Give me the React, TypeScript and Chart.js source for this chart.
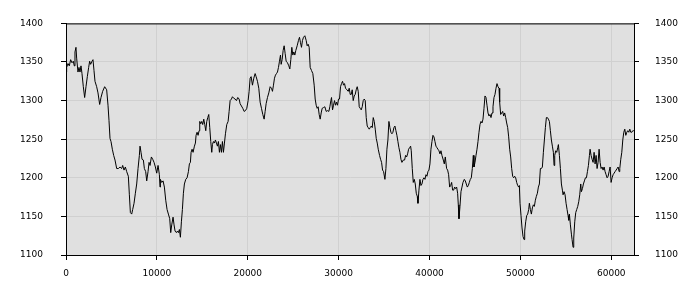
import React, { useEffect, useRef } from "react";
import { Chart, registerables } from "chart.js";

Chart.register(...registerables);

const seg1: [number, number][] = [[0,1337],[70,1343],[217,1348],[364,1345],[511,1353],[657,1349],[804,1351],[914,1345],[988,1363],[1098,1369],[1171,1355],[1318,1337],[1428,1343],[1539,1337],[1649,1345],[1759,1335],[1906,1318],[2052,1304],[2199,1318],[2346,1331],[2493,1343],[2603,1351],[2713,1347],[2860,1351],[2970,1353],[3080,1339],[3190,1325],[3374,1318],[3521,1310],[3704,1295],[3851,1304],[4035,1312],[4255,1318],[4475,1314],[4622,1294],[4732,1274],[4842,1251],[4953,1247],[5099,1237],[5246,1229],[5393,1223],[5577,1212],[5760,1212],[5944,1214],[6127,1212],[6237,1216],[6384,1210],[6531,1214],[6678,1208],[6861,1202],[6972,1178],[7082,1155],[7229,1153],[7339,1159],[7486,1167],[7632,1180],[7779,1192],[7926,1212],[8073,1229],[8146,1241],[8256,1233],[8367,1224],[8513,1223],[8624,1212],[8770,1208],[8881,1196],[9027,1208],[9137,1220],[9248,1216],[9394,1227],[9541,1224],[9688,1220],[9835,1214],[9982,1206],[10129,1216],[10275,1204],[10349,1188]];

const seg2: [number, number][] = [[10385,1198],[10532,1194],[10679,1196],[10826,1188],[10973,1171],[11119,1159],[11266,1153],[11413,1147],[11523,1129],[11633,1139],[11780,1149],[11890,1139],[12001,1131],[12147,1129],[12257,1131],[12368,1129],[12478,1133],[12588,1123],[12698,1143],[12808,1159],[12918,1180],[13028,1192],[13175,1198],[13322,1200],[13469,1208],[13579,1218],[13689,1220],[13763,1233],[13873,1237],[13983,1233],[14130,1241],[14240,1245],[14313,1255],[14423,1259],[14533,1255],[14644,1261],[14717,1273],[14827,1270],[14937,1273],[15047,1269],[15158,1276],[15268,1269],[15378,1261],[15488,1273],[15598,1278],[15708,1282],[15818,1265],[15928,1247],[16039,1233],[16112,1243],[16222,1247],[16332,1245],[16442,1249],[16553,1245],[16663,1241],[16773,1247],[16883,1233],[16993,1243],[17103,1233],[17213,1247],[17323,1233],[17434,1245],[17544,1257],[17691,1269],[17837,1273],[17948,1286],[18058,1300],[18204,1302],[18315,1305],[18461,1303],[18608,1302],[18755,1300],[18902,1304],[19049,1302],[19159,1296],[19306,1293],[19453,1290],[19599,1286],[19746,1287],[19893,1290],[20040,1300],[20150,1312],[20260,1329],[20370,1331],[20517,1320],[20664,1329],[20811,1335]];

const seg3: [number, number][] = [[20921,1331],[21068,1325],[21214,1316],[21361,1298],[21508,1290],[21655,1282],[21802,1276],[21912,1286],[22022,1296],[22169,1304],[22316,1310],[22463,1318],[22609,1316],[22719,1312],[22830,1320],[22940,1329],[23050,1333],[23160,1335],[23270,1337],[23380,1343],[23490,1351],[23601,1359],[23674,1347],[23784,1353],[23894,1365],[24004,1371],[24114,1361],[24225,1351],[24371,1349],[24518,1345],[24628,1341],[24739,1353],[24849,1369],[24959,1359],[25069,1363],[25179,1359],[25289,1365],[25436,1371],[25583,1378],[25693,1382],[25803,1375],[25913,1369],[26023,1378],[26134,1382],[26280,1384],[26427,1378],[26537,1371],[26647,1373],[26758,1369],[26868,1343],[27015,1339],[27161,1335],[27308,1320],[27418,1302],[27528,1294],[27639,1290],[27749,1292],[27859,1282],[27969,1276],[28079,1284],[28189,1290],[28336,1291],[28483,1292],[28630,1286],[28777,1287],[28923,1286],[29033,1292],[29144,1300],[29217,1304],[29327,1288],[29437,1294],[29547,1300],[29658,1294],[29768,1298],[29878,1294],[29988,1302],[30098,1302],[30208,1318],[30318,1322],[30429,1325],[30539,1320],[30649,1322],[30759,1316],[30906,1314],[31053,1312],[31163,1316],[31273,1308]];

const seg4: [number, number][] = [[31384,1308],[31494,1314],[31604,1300],[31714,1306],[31824,1308],[31934,1314],[32044,1318],[32155,1312],[32265,1292],[32375,1290],[32485,1288],[32595,1292],[32705,1300],[32815,1302],[32926,1300],[33036,1278],[33146,1267],[33256,1265],[33366,1263],[33476,1265],[33586,1267],[33696,1265],[33807,1278],[33917,1273],[34027,1263],[34137,1251],[34247,1245],[34357,1237],[34504,1229],[34614,1224],[34724,1220],[34834,1210],[34945,1208],[35091,1198],[35202,1212],[35312,1237],[35422,1249],[35532,1273],[35642,1265],[35752,1259],[35862,1257],[35972,1259],[36083,1265],[36193,1267],[36303,1261],[36413,1255],[36523,1247],[36633,1239],[36743,1233],[36854,1224],[36964,1220],[37110,1223],[37257,1223],[37367,1229],[37478,1227],[37588,1231],[37698,1237],[37808,1239],[37918,1241],[37991,1235],[38102,1212],[38212,1194],[38322,1198],[38432,1192],[38542,1180],[38652,1176],[38726,1167],[38836,1184],[38946,1198],[39056,1190],[39166,1192],[39276,1198],[39386,1200],[39497,1198],[39607,1204],[39717,1202],[39827,1208],[39937,1210],[40047,1218],[40157,1237],[40268,1247],[40378,1255],[40488,1253],[40598,1247],[40708,1241],[40818,1239],[40928,1237],[41038,1235],[41149,1231],[41259,1235],[41369,1229],[41516,1223],[41626,1218],[41736,1227]];

const seg5: [number, number][] = [[41882,1212],[41993,1210],[42103,1204],[42213,1188],[42323,1190],[42433,1194],[42543,1184],[42653,1184],[42763,1188],[42874,1186],[42984,1188],[43094,1180],[43167,1165],[43241,1147],[43351,1163],[43461,1182],[43571,1188],[43681,1194],[43828,1198],[43938,1196],[44048,1192],[44158,1188],[44269,1190],[44379,1194],[44489,1198],[44599,1200],[44709,1212],[44819,1229],[44893,1214],[45003,1220],[45113,1229],[45223,1237],[45333,1247],[45443,1259],[45553,1269],[45664,1273],[45774,1271],[45884,1276],[45994,1290],[46104,1306],[46214,1304],[46324,1294],[46434,1284],[46545,1280],[46655,1282],[46765,1278],[46875,1284],[46985,1292],[47095,1304],[47205,1308],[47315,1316],[47426,1322],[47536,1318],[47646,1316],[47719,1298],[47829,1282],[47940,1284],[48050,1286],[48160,1280],[48270,1284],[48380,1278],[48490,1271],[48600,1265],[48710,1253],[48821,1237],[48931,1227],[49041,1212],[49151,1202],[49261,1200],[49371,1202],[49481,1200],[49591,1194],[49702,1190],[49812,1188],[49885,1190],[49959,1167],[50069,1151],[50179,1135],[50289,1124],[50399,1120],[50473,1131],[50583,1143],[50693,1151],[50803,1153],[50913,1159],[50986,1167],[51097,1159],[51207,1153],[51317,1161],[51427,1165],[51537,1163],[51647,1171],[51757,1176],[51868,1180],[51978,1188],[52088,1192],[52198,1212]];

const seg6: [number, number][] = [[52309,1212],[52419,1214],[52529,1233],[52639,1249],[52749,1265],[52859,1278],[52970,1278],[53080,1276],[53190,1273],[53300,1261],[53410,1249],[53520,1241],[53630,1233],[53704,1216],[53777,1229],[53887,1235],[53997,1233],[54107,1239],[54181,1243],[54291,1229],[54401,1212],[54511,1192],[54621,1184],[54695,1178],[54805,1182],[54915,1178],[55025,1167],[55135,1159],[55245,1151],[55319,1145],[55392,1153],[55502,1139],[55613,1127],[55686,1120],[55796,1110],[55870,1122],[55980,1143],[56090,1155],[56200,1159],[56310,1163],[56420,1169],[56530,1178],[56640,1192],[56714,1182],[56824,1186],[56934,1192],[57044,1196],[57154,1200],[57265,1200],[57375,1208],[57485,1216],[57595,1229],[57668,1237],[57778,1229],[57889,1224],[57999,1220],[58109,1233],[58219,1218],[58329,1229],[58439,1212],[58549,1220],[58660,1237],[58770,1220],[58880,1212],[58990,1214],[59100,1210],[59210,1214],[59320,1208],[59430,1204],[59541,1200],[59651,1202],[59761,1208],[59871,1214],[59981,1194],[60091,1200],[60201,1204],[60311,1206],[60421,1208],[60532,1210],[60642,1212],[60752,1214],[60862,1208],[60935,1212],[61045,1224],[61156,1233],[61266,1249],[61376,1259],[61486,1263],[61596,1255],[61706,1259],[61816,1261],[61927,1259],[62037,1263],[62147,1259],[62257,1259],[62367,1261],[62477,1261]];

const xMin = 0;
const xMax = 62500;
const xTicks = [0, 10000, 20000, 30000, 40000, 50000, 60000];
const yMin = 1100;
const yMax = 1400;
const yTicks = [1100, 1150, 1200, 1250, 1300, 1350, 1400];

const FONT = { family: "'DejaVu Sans', Verdana, sans-serif", size: 9 };

export default function App() {
  const ref = useRef<HTMLCanvasElement | null>(null);
  useEffect(() => {
    document.body.style.margin = "0";
    const canvas = ref.current;
    if (!canvas) return;
    const points = [...seg1, ...seg2, ...seg3, ...seg4, ...seg5, ...seg6].map(([x, y]) => ({ x, y }));
    const framePlugin = {
      id: "frame",
      beforeDraw(chart: any) {
        const { ctx, chartArea: a } = chart;
        ctx.save();
        ctx.fillStyle = "#e0e0e0";
        ctx.fillRect(a.left, a.top, a.right - a.left, a.bottom - a.top);
        ctx.restore();
      },
      afterDraw(chart: any) {
        const { ctx, chartArea: a } = chart;
        ctx.save();
        ctx.strokeStyle = "#000";
        ctx.lineWidth = 1;
        ctx.strokeRect(a.left + 0.5, a.top + 0.5, a.right - a.left, a.bottom - a.top);
        ctx.restore();
      },
    };
    const setTicks = (list: number[]) => (s: any) => {
      s.ticks = list.map((value) => ({ value }));
    };
    const fmt = (v: any) => String(v);
    const chart = new Chart(canvas, {
      type: "line",
      data: {
        datasets: [
          {
            data: points,
            borderColor: "#000",
            borderWidth: 1,
            pointRadius: 0,
            tension: 0,
            fill: false,
          },
        ],
      },
      options: {
        animation: false,
        responsive: false,
        layout: { padding: { top: 10, left: 0, right: 0, bottom: 0 } },
        plugins: { legend: { display: false }, tooltip: { enabled: false } },
        scales: {
          x: {
            type: "linear",
            position: "bottom",
            min: xMin,
            max: xMax,
            afterFit: (s: any) => { s.height = 45; },
            afterBuildTicks: setTicks(xTicks),
            ticks: { color: "#000", font: FONT, padding: 8, maxRotation: 0, autoSkip: false, callback: fmt },
            grid: { color: "#d0d0d0", tickColor: "#000", tickLength: 5, lineWidth: 1 },
            border: { display: true, color: "#000" },
          },
          y: {
            type: "linear",
            position: "left",
            min: yMin,
            max: yMax,
            afterFit: (s: any) => { s.width = 66; },
            afterBuildTicks: setTicks(yTicks),
            ticks: { color: "#000", font: FONT, padding: 18, autoSkip: false, callback: fmt },
            grid: { color: "#d0d0d0", tickColor: "#000", tickLength: 5, lineWidth: 1 },
            border: { display: true, color: "#000" },
          },
          y2: {
            type: "linear",
            position: "right",
            min: yMin,
            max: yMax,
            afterFit: (s: any) => { s.width = 66; },
            afterBuildTicks: setTicks(yTicks),
            ticks: { color: "#000", font: FONT, padding: 16, autoSkip: false, callback: fmt },
            grid: { drawOnChartArea: false, tickColor: "#000", tickLength: 5 },
            border: { display: true, color: "#000" },
          },
        },
      },
      plugins: [framePlugin],
    });
    return () => chart.destroy();
  }, []);
  return (
    <div style={{ width: 700, height: 300 }}>
      <canvas ref={ref} width={700} height={300} style={{ display: "block", width: 700, height: 300 }} />
    </div>
  );
}
